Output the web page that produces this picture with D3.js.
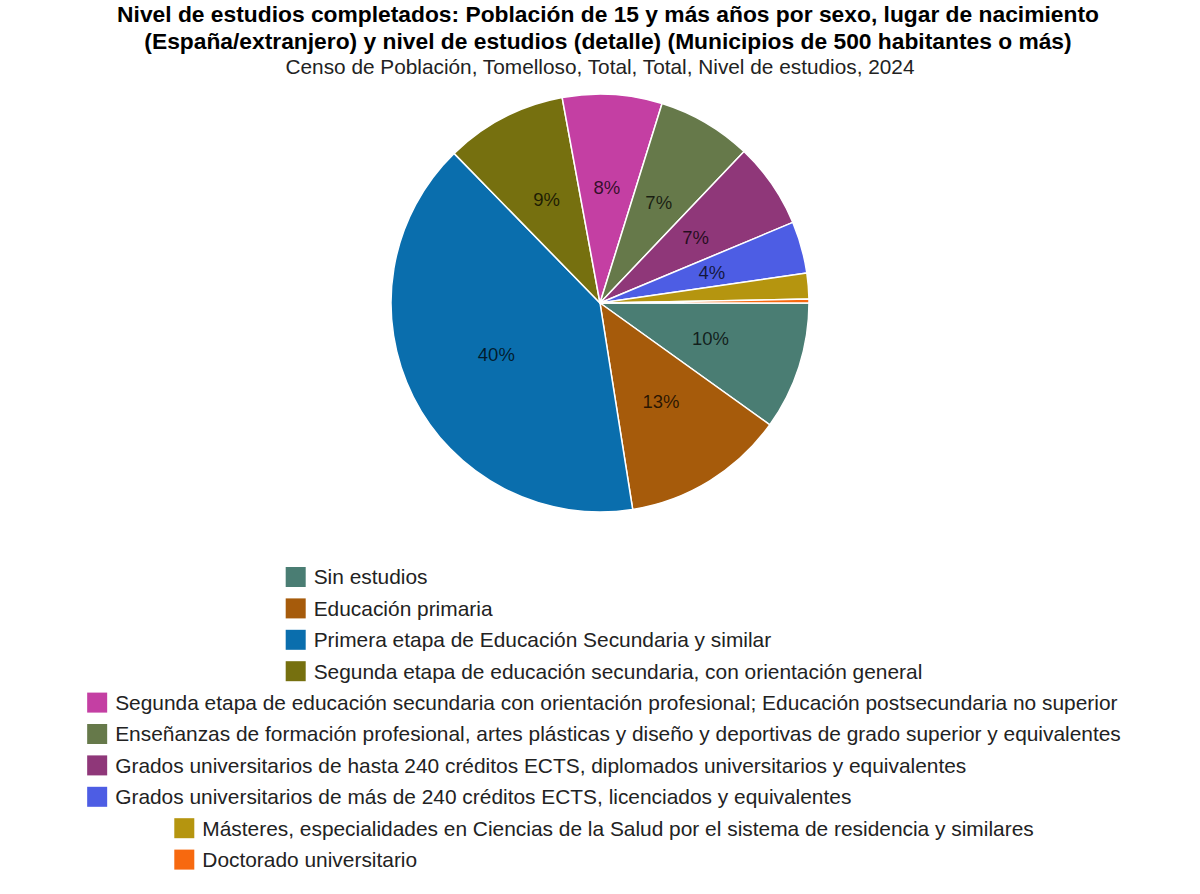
<!DOCTYPE html>
<html><head><meta charset="utf-8">
<script src="https://cdn.jsdelivr.net/npm/d3@7"></script>
<style>body{margin:0;background:#fff;} svg{display:block;font-family:"Liberation Sans",Arial,sans-serif;}</style>
</head><body>
<svg id="chart" width="1200" height="894"></svg>
<script>
const titleLines = ["Nivel de estudios completados: Población de 15 y más años por sexo, lugar de nacimiento",
  "(España/extranjero) y nivel de estudios (detalle) (Municipios de 500 habitantes o más)"];
const subtitle = "Censo de Población, Tomelloso, Total, Total, Nivel de estudios, 2024";
const categories = [
  "Sin estudios",
  "Educación primaria",
  "Primera etapa de Educación Secundaria y similar",
  "Segunda etapa de educación secundaria, con orientación general",
  "Segunda etapa de educación secundaria con orientación profesional; Educación postsecundaria no superior",
  "Enseñanzas de formación profesional, artes plásticas y diseño y deportivas de grado superior y equivalentes",
  "Grados universitarios de hasta 240 créditos ECTS, diplomados universitarios y equivalentes",
  "Grados universitarios de más de 240 créditos ECTS, licenciados y equivalentes",
  "Másteres, especialidades en Ciencias de la Salud por el sistema de residencia y similares",
  "Doctorado universitario"
];
const values = [9.9, 12.6, 40.2, 9.4, 7.7, 7.3, 6.6, 4.0, 2.0, 0.3];
const colors = ["#4a7d73","#a65b0b","#0a6ead","#76700f","#c43fa3","#66794a","#8f3779","#4d5de4","#b5950f","#f7690f"];
const legendGroups = [[0,1,2,3],[4,5,6,7],[8,9]];

const svg = d3.select("#chart");
const W = 1200;

// Titles
svg.selectAll("text.title").data(titleLines).join("text")
  .attr("class","title")
  .attr("x", W/2 + 8).attr("y",(d,i)=>22+i*27)
  .attr("text-anchor","middle").attr("font-size",22.8).attr("font-weight","bold").attr("fill","#000")
  .text(d=>d);
svg.append("text").attr("x",W/2).attr("y",74).attr("text-anchor","middle")
  .attr("font-size",20.8).attr("fill","#222").text(subtitle);

// Pie
const cx = 600, cy = 303, R = 209;
const data = categories.map((c,i)=>({cat:c, value:values[i], color:colors[i]}));
const pie = d3.pie().value(d=>d.value).sort(null).startAngle(Math.PI/2).endAngle(Math.PI/2+2*Math.PI);
const arcs = pie(data);
const arc = d3.arc().innerRadius(0).outerRadius(R);
const labelArc = d3.arc().innerRadius(116).outerRadius(116);
const g = svg.append("g").attr("transform",`translate(${cx},${cy})`);
g.selectAll("path").data(arcs).join("path")
  .attr("d",arc).attr("fill",d=>d.data.color)
  .attr("stroke","#fff").attr("stroke-width",1.5).attr("stroke-linejoin","round");
const total = d3.sum(values);
g.selectAll("text").data(arcs.filter(d=>d.data.value/total>=0.03)).join("text")
  .attr("transform",d=>`translate(${labelArc.centroid(d)})`)
  .attr("text-anchor","middle").attr("dy","0.35em")
  .attr("font-size",18.5).attr("fill","#000").attr("fill-opacity",0.75)
  .text(d=>d3.format(".0f")(d.data.value/total*100)+"%");

// Legend
const legY0 = 577, legStep = 31.4, box = 20, gap = 8, fs = 20.9;
const lg = svg.append("g");
let row = 0;
legendGroups.forEach(group=>{
  const items = group.map(i=>({i, y: legY0 + (row++)*legStep}));
  const sel = lg.selectAll(null).data(items).enter().append("g");
  const texts = sel.append("text").attr("font-size",fs).attr("fill","#222").attr("dy","0.35em")
    .attr("y",d=>d.y).text(d=>categories[d.i]);
  let maxW = 0;
  texts.each(function(){ maxW = Math.max(maxW, this.getComputedTextLength()); });
  const totalW = box + gap + maxW;
  const x0 = 604 - totalW/2;
  texts.attr("x", x0 + box + gap);
  sel.append("rect").attr("x",x0).attr("y",d=>d.y-box/2).attr("width",box).attr("height",box)
    .attr("fill",d=>colors[d.i]);
});
</script>
</body></html>
